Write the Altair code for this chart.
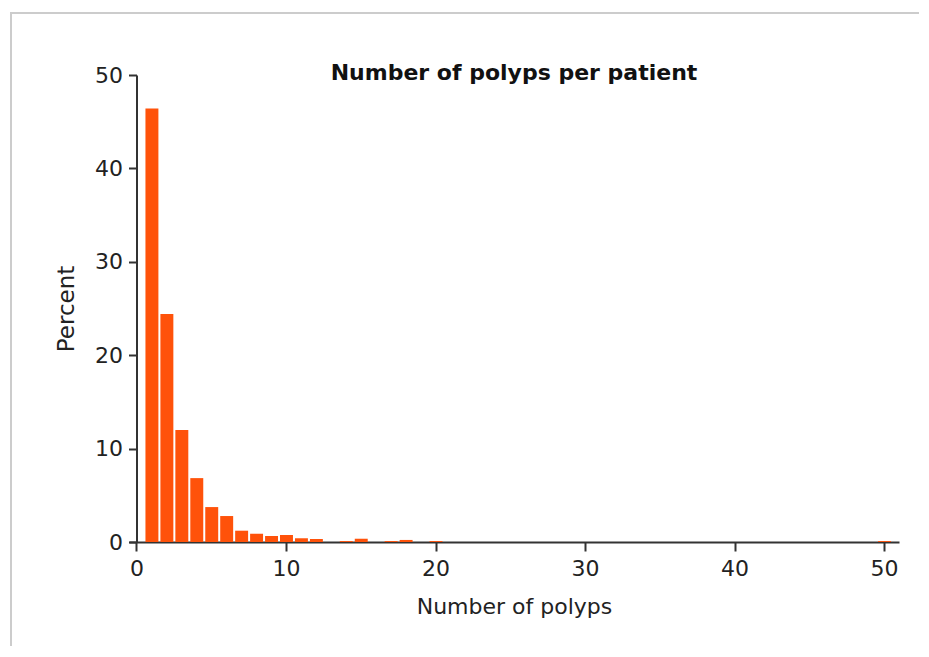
import altair as alt
import pandas as pd

# Number of polyps (bin centres) and percent of patients
polyps = [1, 2, 3, 4, 5, 6, 7, 8, 9, 10, 11, 12, 14, 15, 17, 18, 20, 50]
percent = [46.4, 24.4, 12.0, 6.84, 3.74, 2.78, 1.21, 0.89, 0.64, 0.75,
           0.40, 0.32, 0.10, 0.35, 0.10, 0.22, 0.10, 0.10]

x_ticks = [0, 10, 20, 30, 40, 50]
y_ticks = [0, 10, 20, 30, 40, 50]

df = pd.DataFrame({"n": polyps, "pct": percent})
df["start"] = df["n"] - 0.5
df["end"] = df["n"] + 0.5

FONT = "DejaVu Sans"
AX = "#333333"

W, H = 770, 467

bars = alt.Chart(df).mark_bar(color="#ff520a", binSpacing=2).encode(
    x=alt.X("start:Q", bin="binned",
            scale=alt.Scale(domain=[-0.5, 51], nice=False, zero=False),
            axis=alt.Axis(values=x_ticks, title="Number of polyps", grid=False,
                          tickSize=9, labelPadding=7, titlePadding=17,
                          domainColor=AX, tickColor=AX, domainWidth=2, tickWidth=2,
                          labelFontSize=22, titleFontSize=22, labelColor="#222",
                          titleColor="#222", labelFont=FONT, titleFont=FONT,
                          titleFontWeight="normal")),
    x2="end:Q",
    y=alt.Y("pct:Q",
            scale=alt.Scale(domain=[0, 50], nice=False),
            axis=alt.Axis(values=y_ticks, title="Percent", grid=False, offset=-7.5,
                          tickSize=8, labelPadding=6, titlePadding=16,
                          domainColor=AX, tickColor=AX, domainWidth=2, tickWidth=2,
                          labelFontSize=22, titleFontSize=23, labelColor="#222",
                          titleColor="#222", labelFont=FONT, titleFont=FONT,
                          titleFontWeight="normal")),
)

frame = alt.Chart(pd.DataFrame({"k": [0]})).mark_rect(
    fill=None, stroke="#cccccc", strokeWidth=2
).encode(
    x=alt.value(-118), x2=alt.value(W + 200),
    y=alt.value(-62), y2=alt.value(H + 300),
)

chart = alt.layer(frame, bars).properties(
    width=W, height=H,
    autosize=alt.AutoSizeParams(type="none"),
    padding={"left": 121, "top": 67, "right": 20, "bottom": 104},
    title=alt.TitleParams("Number of polyps per patient", font=FONT, fontSize=22,
                          fontWeight="bold", color="#111", anchor="middle",
                          offset=-73),
).configure_view(stroke=None)

chart.save("out.html", embed_options={"renderer": "svg", "actions": False})
